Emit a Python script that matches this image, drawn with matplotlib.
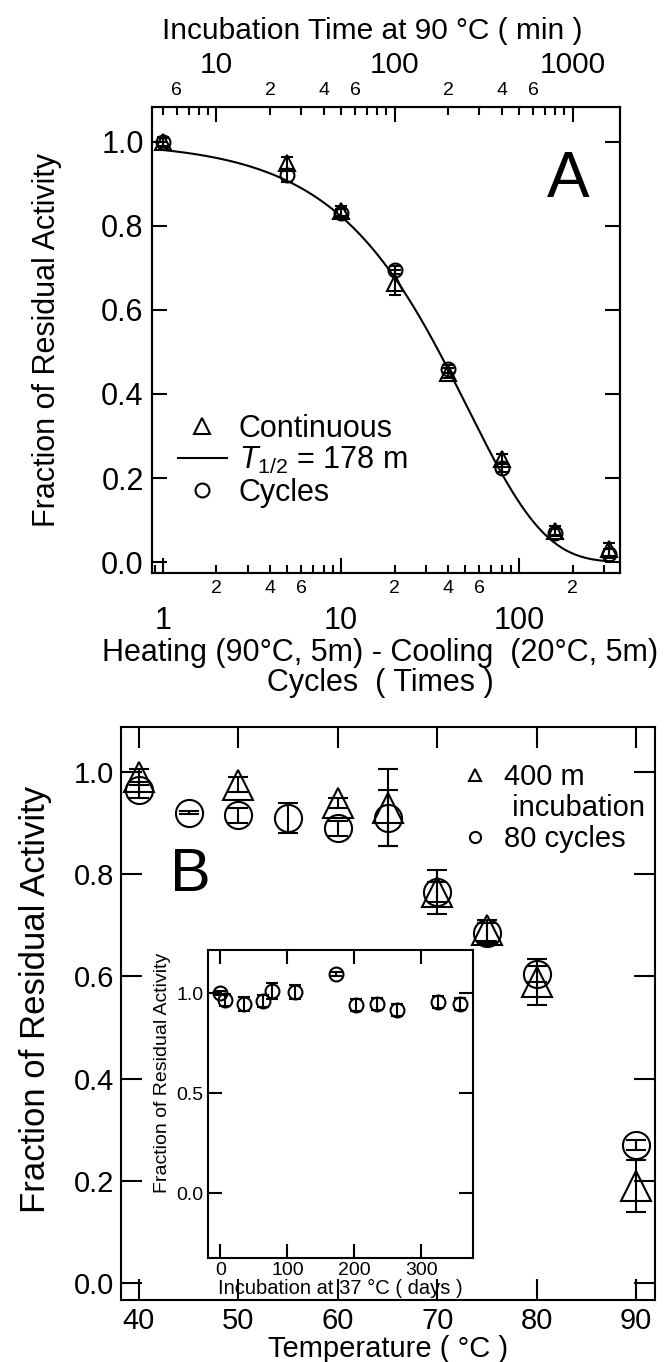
import numpy as np
import matplotlib
matplotlib.use('Agg')
import matplotlib.pyplot as plt
from matplotlib.ticker import FixedLocator, LogLocator, FuncFormatter, MultipleLocator, FormatStrFormatter
from matplotlib.lines import Line2D

plt.rcParams['font.family'] = ['Liberation Sans', 'DejaVu Sans']
plt.rcParams['mathtext.fontset'] = 'custom'
plt.rcParams['mathtext.rm'] = 'Liberation Sans'
plt.rcParams['mathtext.it'] = 'Liberation Sans:italic'
plt.rcParams['axes.linewidth'] = 1.5

# ---------------- Panel A data ----------------
cycles = [1, 5, 10, 20, 40, 80, 160, 320]
cont_frac = [1.00, 0.95, 0.835, 0.665, 0.45, 0.245, 0.075, 0.03]
cont_err = [0.012, 0.015, 0.012, 0.03, 0.012, 0.012, 0.01, 0.015]
cyc_frac = [1.00, 0.92, 0.83, 0.695, 0.46, 0.225, 0.07, 0.02]
cyc_err = [0.01, 0.015, 0.01, 0.01, 0.01, 0.01, 0.008, 0.01]
t_half_min = 178
min_per_cycle = 5
fit_range = [1, 330]

# ---------------- Panel B data ----------------
temps_cont = [40, 50, 60, 65, 70, 75, 80, 90]
cont_B = [0.99, 0.975, 0.94, 0.93, 0.765, 0.69, 0.59, 0.19]
cont_B_err = [0.015, 0.015, 0.01, 0.075, 0.043, 0.02, 0.045, 0.05]
temps_cyc = [40, 45, 50, 55, 60, 65, 70, 75, 80, 90]
cyc_B = [0.965, 0.92, 0.915, 0.91, 0.89, 0.91, 0.765, 0.685, 0.605, 0.27]
cyc_B_err = [0.015, 0.003, 0.015, 0.03, 0.015, 0.055, 0.02, 0.02, 0.015, 0.01]

# ---------------- Inset data ----------------
days = [0, 7, 35, 63, 77, 112, 172, 203, 234, 263, 325, 357]
inset_frac = [1.0, 0.965, 0.945, 0.962, 1.01, 1.003, 1.093, 0.942, 0.943, 0.913, 0.955, 0.943]
inset_err = [0.01, 0.03, 0.035, 0.03, 0.04, 0.035, 0.01, 0.03, 0.03, 0.03, 0.03, 0.03]

W, H = 668, 1362
fig = plt.figure(figsize=(W / 100, H / 100), dpi=100)


def rect(l, t, r, b):
    return [l / W, 1 - b / H, (r - l) / W, (b - t) / H]


eb_kw = dict(mfc='none', mec='k', ecolor='k', mew=1.5, elinewidth=1.5, capthick=1.5, ls='none')

# ======================= Panel A =======================
axA = fig.add_axes(rect(152, 107, 620, 573))
axA.set_xscale('log')
axA.set_xlim(0.87, 369)
axA.set_ylim(-0.026, 1.083)

axA.errorbar(cycles, cont_frac, yerr=cont_err, fmt='^', ms=11, capsize=4, **eb_kw)
axA.errorbar(cycles, cyc_frac, yerr=cyc_err, fmt='o', ms=10, capsize=4, **eb_kw)
n_fit = np.logspace(np.log10(fit_range[0]), np.log10(fit_range[1]), 300)
axA.plot(n_fit, np.exp(-np.log(2) * n_fit * min_per_cycle / t_half_min), color='k', lw=1.5)


def minor_fmt(x, pos):
    m = x / 10 ** np.floor(np.log10(x) + 1e-9)
    d = int(round(m))
    return str(d) if d in (2, 4, 6) else ''


axA.xaxis.set_major_locator(FixedLocator([1, 10, 100]))
axA.xaxis.set_major_formatter(FuncFormatter(lambda x, p: '%d' % round(x)))
axA.xaxis.set_minor_locator(LogLocator(base=10, subs=np.arange(2, 10), numticks=20))
axA.xaxis.set_minor_formatter(FuncFormatter(minor_fmt))
axA.yaxis.set_major_locator(MultipleLocator(0.2))
axA.yaxis.set_major_formatter(FormatStrFormatter('%.1f'))
axA.tick_params(axis='both', which='both', direction='in', width=1.5)
axA.tick_params(axis='y', which='major', length=11, right=True, labelsize=22, pad=6)
axA.tick_params(axis='x', which='major', length=11, labelsize=22, pad=24, top=False)
axA.tick_params(axis='x', which='minor', length=6, labelsize=14, pad=5, top=False)

axA.set_ylabel('Fraction of Residual Activity', fontsize=22, labelpad=28)
axA.set_xlabel('Heating (90°C, 5m) - Cooling  (20°C, 5m)\nCycles  ( Times )', fontsize=22,
               labelpad=1, linespacing=1.0, x=0.487)

# top axis: incubation time (min)
axT = axA.twiny()
axT.set_xscale('log')
axT.set_xlim(0.87 * min_per_cycle, 369 * min_per_cycle)
axT.xaxis.set_major_locator(FixedLocator([10, 100, 1000]))
axT.xaxis.set_major_formatter(FuncFormatter(lambda x, p: '%d' % round(x)))
axT.xaxis.set_minor_locator(LogLocator(base=10, subs=np.arange(2, 10), numticks=20))
axT.xaxis.set_minor_formatter(FuncFormatter(minor_fmt))
axT.tick_params(axis='x', which='both', direction='in', width=1.5, bottom=False, top=True)
axT.tick_params(axis='x', which='major', length=11, labelsize=21.5, pad=20)
axT.tick_params(axis='x', which='minor', length=6, labelsize=14, pad=6)
axT.set_xlabel('Incubation Time at 90 °C ( min )', fontsize=21.5, labelpad=9, x=0.47)

handlesA = [
    Line2D([], [], marker='^', ls='none', mfc='none', mec='k', ms=11, mew=1.5),
    Line2D([], [], color='k', lw=1.5),
    Line2D([], [], marker='o', ls='none', mfc='none', mec='k', ms=10, mew=1.5),
]
labelsA = ['Continuous', r'$T_{1/2}$ = 178 m', 'Cycles']
axA.legend(handlesA, labelsA, loc='lower left', bbox_to_anchor=(0.055, 0.14), frameon=False,
           fontsize=22, handlelength=1.6, handletextpad=0.4, labelspacing=0.05,
           borderpad=0, borderaxespad=0)
axA.text(0.889, 0.843, 'A', transform=axA.transAxes, fontsize=46, ha='center', va='center')

# ======================= Panel B =======================
axB = fig.add_axes(rect(121, 727, 655, 1300))
axB.set_xlim(38.2, 91.9)
axB.set_ylim(-0.033, 1.088)
axB.errorbar(temps_cont, cont_B, yerr=cont_B_err, fmt='^', ms=22, capsize=7, **eb_kw)
axB.errorbar(temps_cyc, cyc_B, yerr=cyc_B_err, fmt='o', ms=19.5, capsize=7, **eb_kw)
axB.xaxis.set_major_locator(MultipleLocator(10))
axB.yaxis.set_major_locator(MultipleLocator(0.2))
axB.yaxis.set_major_formatter(FormatStrFormatter('%.1f'))
axB.tick_params(axis='both', which='major', direction='in', width=1.5, length=15,
                top=True, right=True, labelsize=21, pad=5)
axB.set_xlabel('Temperature ( °C )', fontsize=21, labelpad=0)
axB.set_ylabel('Fraction of Residual Activity', fontsize=25)
axB.yaxis.set_label_coords(-0.13, 0.524)

handlesB = [
    Line2D([], [], marker='^', ls='none', mfc='none', mec='k', ms=9, mew=1.5),
    Line2D([], [], ls='none'),
    Line2D([], [], marker='o', ls='none', mfc='none', mec='k', ms=8, mew=1.5),
]
labelsB = ['400 m', ' incubation', '80 cycles']
axB.legend(handlesB, labelsB, loc='upper left', bbox_to_anchor=(0.635, 0.937), frameon=False,
           fontsize=21, handlelength=1.0, handletextpad=0.5, labelspacing=0.1,
           borderpad=0, borderaxespad=0)
axB.text(0.129, 0.74, 'B', transform=axB.transAxes, fontsize=44, ha='center', va='center')

# ======================= Inset =======================
axI = fig.add_axes(rect(208, 950, 473, 1258))
axI.set_xlim(-18.5, 377)
axI.set_ylim(-0.325, 1.215)
axI.errorbar(days, inset_frac, yerr=inset_err, fmt='o', ms=10, capsize=4, **eb_kw)
axI.xaxis.set_major_locator(MultipleLocator(100))
axI.yaxis.set_major_locator(MultipleLocator(0.5))
axI.yaxis.set_major_formatter(FormatStrFormatter('%.1f'))
axI.tick_params(axis='both', which='major', direction='in', width=1.5, length=10,
                top=True, right=True, labelsize=14, pad=3)
axI.set_xlabel('Incubation at 37 °C ( days )', fontsize=14.5, labelpad=0)
axI.set_ylabel('Fraction of Residual Activity', fontsize=14)
axI.yaxis.set_label_coords(-0.14, 0.6)

fig.savefig('out.png', dpi=100)
